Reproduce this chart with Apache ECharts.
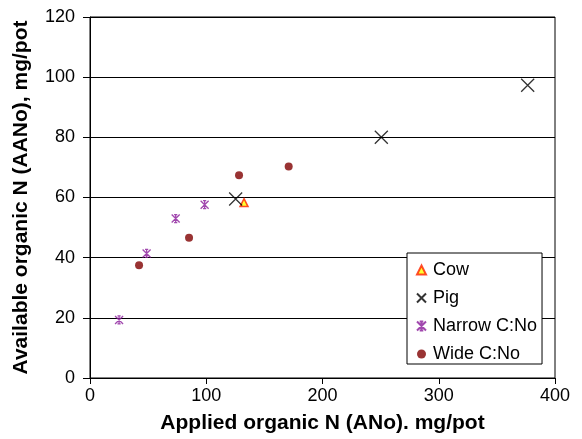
<!DOCTYPE html>
<html>
<head>
<meta charset="utf-8">
<script src="https://cdn.jsdelivr.net/npm/echarts@6/dist/echarts.min.js"></script>
<style>html,body{margin:0;padding:0;background:#fff;}#c{width:582px;height:439px;}</style>
</head>
<body>
<div id="c"></div>
<script>
const cowData = [[132.5, 58.3]];
const pigData = [[125.3, 59.5], [250.6, 80.0], [376.5, 97.3]];
const narrowData = [[25, 19.3], [48.7, 41.4], [73.7, 53.0], [98.6, 57.6]];
const wideData = [[42.2, 37.5], [85.2, 46.6], [128.2, 67.4], [170.9, 70.3]];
const seriesNames = ['Cow', 'Pig', 'Narrow C:No', 'Wide C:No'];
const xTitle = 'Applied organic N (ANo). mg/pot';
const yTitle = 'Available organic N (AANo), mg/pot';

const FONT = '"Liberation Sans", Arial, sans-serif';
const chart = echarts.init(document.getElementById('c'), null, {renderer: 'canvas'});
const xPath = 'path://M0,0L10,10M10,0L0,10';
const starPath = 'path://M0,0L10,10M10,0L0,10M5,0L5,10M3,0L7,0M3,10L7,10';
chart.setOption({
  animation: false,
  backgroundColor: '#fff',
  grid: {left: 90, right: 27, top: 17, bottom: 58, show: true, borderColor: '#000', borderWidth: 1, backgroundColor: 'transparent'},
  xAxis: {
    type: 'value', min: 0, max: 400, interval: 100,
    name: xTitle, nameLocation: 'middle', nameGap: 35,
    nameTextStyle: {fontFamily: FONT, fontSize: 21, fontWeight: 'bold', color: '#000'},
    axisLine: {show: true, onZero: false, lineStyle: {color: '#000', width: 1}},
    axisTick: {show: true, inside: false, length: 6, lineStyle: {color: '#000'}},
    axisLabel: {fontFamily: FONT, fontSize: 18, color: '#000', margin: 9},
    splitLine: {show: false}
  },
  yAxis: {
    type: 'value', min: 0, max: 120, interval: 20,
    name: yTitle, nameLocation: 'middle', nameGap: 58, nameRotate: 90,
    nameTextStyle: {fontFamily: FONT, fontSize: 21, fontWeight: 'bold', color: '#000'},
    axisLine: {show: true, lineStyle: {color: '#000', width: 1}},
    axisTick: {show: true, inside: false, length: 7, lineStyle: {color: '#000'}},
    axisLabel: {fontFamily: FONT, fontSize: 18, color: '#000', margin: 15},
    splitLine: {show: true, lineStyle: {color: '#000', width: 1}}
  },
  legend: {
    orient: 'vertical', left: 407, top: 253,
    padding: [8, 5, 1, 9],
    backgroundColor: '#fff', borderColor: '#000', borderWidth: 1,
    itemWidth: 9, itemHeight: 9, itemGap: 10,
    textStyle: {fontFamily: FONT, fontSize: 18, color: '#000', padding: [0, 0, 0, 2]},
    data: seriesNames
  },
  series: [
    {name: seriesNames[0], type: 'scatter', data: cowData, symbol: 'triangle', symbolSize: 8,
     itemStyle: {color: '#ffff00', borderColor: '#ff2000', borderWidth: 1.5}},
    {name: seriesNames[1], type: 'scatter', data: pigData, symbol: xPath, symbolSize: 13,
     itemStyle: {color: 'transparent', borderColor: '#000', borderWidth: 1.3}},
    {name: seriesNames[2], type: 'scatter', data: narrowData, symbol: starPath, symbolSize: 8,
     itemStyle: {color: 'transparent', borderColor: '#8a1a9a', borderWidth: 1.3}},
    {name: seriesNames[3], type: 'scatter', data: wideData, symbol: 'circle', symbolSize: 8,
     itemStyle: {color: '#800000', borderColor: '#800000', borderWidth: 0}}
  ]
});
</script>
</body>
</html>
